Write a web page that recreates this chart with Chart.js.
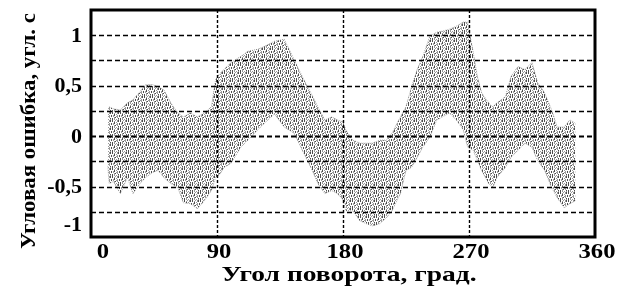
<!DOCTYPE html>
<html>
<head>
<meta charset="utf-8">
<script src="https://cdn.jsdelivr.net/npm/chart.js@4"></script>
<style>
  html, body { margin: 0; padding: 0; background: #fff; }
</style>
</head>
<body>
<canvas id="chart" width="629" height="291"></canvas>
<script>
// ---- data ----
const angles = [12, 13, 16, 21, 26, 30, 35, 39, 44, 48, 52, 57, 62, 66, 71, 76, 81, 86, 89,
  92, 95, 100, 107, 112, 119, 124, 131, 138, 145, 152, 157, 162, 167, 172, 176, 180,
  182, 187, 192, 197, 201, 206, 211, 215, 221, 225, 229, 233, 237, 242, 247, 251, 256,
  261, 266, 269, 273, 276, 279, 284, 287, 290, 296, 300, 305, 310, 315, 319, 324, 329,
  333, 338, 342, 346];
const upper = [0.25, 0.29, 0.27, 0.26, 0.33, 0.36, 0.44, 0.51, 0.51, 0.49, 0.46, 0.33, 0.23,
  0.19, 0.23, 0.19, 0.23, 0.29, 0.56, 0.62, 0.66, 0.73, 0.79, 0.84, 0.86, 0.89, 0.94, 0.96,
  0.76, 0.56, 0.43, 0.29, 0.16, 0.19, 0.16, 0.14, 0.06, -0.04, -0.07, -0.07, -0.07, -0.04,
  -0.04, 0.03, 0.19, 0.29, 0.49, 0.66, 0.79, 0.99, 1.03, 1.04, 1.06, 1.09, 1.13, 1.13, 0.83,
  0.59, 0.43, 0.33, 0.29, 0.33, 0.39, 0.59, 0.69, 0.66, 0.73, 0.53, 0.43, 0.26, 0.09, 0.09,
  0.16, 0.13];
const lower = [-0.30, -0.47, -0.45, -0.57, -0.41, -0.57, -0.47, -0.41, -0.36, -0.34, -0.41,
  -0.47, -0.51, -0.66, -0.67, -0.72, -0.64, -0.54, -0.41, -0.38, -0.31, -0.27, -0.11, -0.04,
  0.06, 0.13, 0.22, 0.09, 0.03, -0.17, -0.31, -0.47, -0.57, -0.54, -0.57, -0.63, -0.74, -0.74,
  -0.84, -0.87, -0.89, -0.87, -0.81, -0.74, -0.57, -0.34, -0.31, -0.21, -0.11, -0.01, 0.16,
  0.19, 0.23, 0.16, 0.06, -0.11, -0.14, -0.24, -0.34, -0.47, -0.51, -0.41, -0.31, -0.21,
  -0.14, -0.07, -0.11, -0.24, -0.34, -0.51, -0.61, -0.71, -0.67, -0.64];

const xTickValues = [0, 90, 180, 270, 360];
const yTickValues = [1, 0.5, 0, -0.5, -1];
const yTickText = ['1', '0,5', '0', '-0,5', '-1'];
const xTitle = 'Угол поворота, град.';
const yTitle = 'Угловая ошибка, угл. с';

const FONT = '"Liberation Serif", serif';

// stipple pattern for the noisy band (2 = dark dot, 1 = light dot)
function stipple() {
  const rows = [
    '20010120',
    '20100120',
    '00201000',
    '01200102',
    '01001102',
    '00120100',
    '20100020',
    '20101010'
  ];
  const c = document.createElement('canvas');
  c.width = 8; c.height = 8;
  const g = c.getContext('2d');
  rows.forEach((r, y) => [...r].forEach((b, x) => {
    if (b === '0') return;
    g.fillStyle = b === '2' ? '#4d4d4d' : '#999';
    g.fillRect(x, y, 1, 1);
  }));
  return g.createPattern(c, 'repeat');
}

// grid, frame, tick labels and titles drawn over the band
const overlay = {
  id: 'overlay',
  afterDatasetsDraw(chart) {
    const { ctx, chartArea: a, scales: { x, y } } = chart;
    ctx.save();
    ctx.strokeStyle = '#000';
    // horizontal dashed lines every 0.25
    y.ticks.forEach(t => {
      if (t.value <= y.min || t.value >= y.max) return;
      const py = Math.round(y.getPixelForValue(t.value)) + 0.5;
      ctx.lineWidth = t.value === 0 ? 2 : 1.4;
      ctx.setLineDash([5, 3]);
      ctx.beginPath(); ctx.moveTo(a.left, py); ctx.lineTo(a.right, py); ctx.stroke();
    });
    // vertical dashed lines
    xTickValues.forEach(v => {
      if (v <= x.min || v >= x.max) return;
      const px = Math.round(x.getPixelForValue(v)) + 0.5;
      ctx.lineWidth = 1.4;
      ctx.setLineDash([3, 2]);
      ctx.beginPath(); ctx.moveTo(px, a.top); ctx.lineTo(px, a.bottom); ctx.stroke();
    });
    // frame
    ctx.setLineDash([]);
    ctx.lineWidth = 3;
    ctx.strokeRect(a.left, a.top, a.right - a.left, a.bottom - a.top);

    ctx.fillStyle = '#000';
    ctx.font = 'bold 22px ' + FONT;
    ctx.textBaseline = 'middle';
    // x tick labels (slightly wide, like the scan)
    xTickValues.forEach(v => {
      let px = x.getPixelForValue(v) + 2;
      if (v === x.min) px = a.left + 12;
      ctx.save();
      ctx.translate(px, 252);
      ctx.scale(1.12, 1);
      ctx.textAlign = 'center';
      ctx.fillText(String(v), 0, 0);
      ctx.restore();
    });
    // y tick labels
    ctx.textAlign = 'right';
    yTickValues.forEach((v, i) => {
      const py = Math.min(y.getPixelForValue(v) + 1, a.bottom - 12);
      ctx.fillText(yTickText[i], a.left - 9, py);
    });
    // x title
    ctx.save();
    ctx.translate((a.left + a.right) / 2 + 6, 275);
    ctx.scale(1.25, 1);
    ctx.textAlign = 'center';
    ctx.fillText(xTitle, 0, 0);
    ctx.restore();
    // y title
    ctx.save();
    ctx.translate(29, 131);
    ctx.rotate(-Math.PI / 2);
    ctx.scale(1.04, 1);
    ctx.textAlign = 'center';
    ctx.fillText(yTitle, 0, 0);
    ctx.restore();
    ctx.restore();
  }
};

function build() {
  const pat = stipple();
  new Chart(document.getElementById('chart'), {
    type: 'line',
    data: {
      datasets: [
        {
          data: angles.map((a, i) => ({ x: a, y: upper[i] })),
          fill: '+1',
          backgroundColor: pat,
          borderColor: 'rgba(120,120,120,0.6)',
          borderWidth: 1,
          borderDash: [1, 1],
          pointRadius: 0,
          tension: 0
        },
        {
          data: angles.map((a, i) => ({ x: a, y: lower[i] })),
          fill: false,
          borderColor: 'rgba(120,120,120,0.6)',
          borderWidth: 1,
          borderDash: [1, 1],
          pointRadius: 0,
          tension: 0
        }
      ]
    },
    plugins: [overlay],
    options: {
      responsive: false,
      devicePixelRatio: 1,
      animation: false,
      layout: { padding: { top: 10, right: 34, left: 0, bottom: 0 } },
      plugins: { legend: { display: false }, tooltip: { enabled: false } },
      scales: {
        x: {
          type: 'linear',
          min: 0, max: 360,
          ticks: { display: false, stepSize: 90 },
          grid: { display: false },
          border: { display: false },
          afterFit: s => { s.height = 54; }
        },
        y: {
          min: -1, max: 1.25,
          ticks: { display: false, stepSize: 0.25, autoSkip: false },
          grid: { display: false },
          border: { display: false },
          afterFit: s => { s.width = 91; }
        }
      }
    }
  });
}

// wait for the serif face so canvas text does not fall back
document.fonts.load('bold 22px "Liberation Serif"').then(build, build);
</script>
</body>
</html>
